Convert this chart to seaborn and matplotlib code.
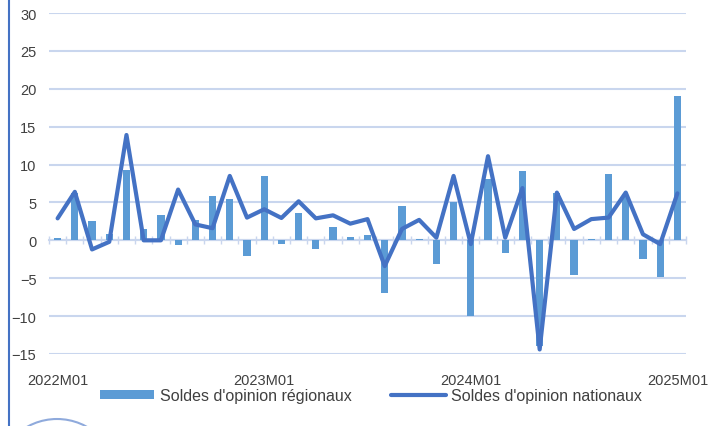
import numpy as np
import matplotlib
matplotlib.use("Agg")
import matplotlib.pyplot as plt
import seaborn as sns
from matplotlib.patches import Patch, Ellipse
from matplotlib.lines import Line2D

# Mois 2022M01 -> 2025M01
months = [f"{y}M{m:02d}" for y in (2022, 2023, 2024) for m in range(1, 13)] + ["2025M01"]
tick_labels = ["2022M01", "2023M01", "2024M01", "2025M01"]

# Soldes d'opinion regionaux (barres)
regional = [0.3, 6.2, 2.5, 0.9, 9.3, 1.5, 3.4, -0.6, 2.7, 5.8, 5.5, -2.1,
            8.5, -0.5, 3.6, -1.1, 1.8, 0.5, 0.7, -6.9, 4.5, 0.2, -3.1, 5.0,
            -10.0, 8.1, -1.7, 9.2, -14.0, 6.2, -4.6, 0.2, 8.7, 5.9, -2.4, -4.8,
            19.1]
# Soldes d'opinion nationaux (ligne)
national = [2.9, 6.4, -1.2, -0.2, 13.9, 0.0, 0.0, 6.7, 2.1, 1.6, 8.5, 3.0,
            4.1, 2.95, 5.15, 2.9, 3.3, 2.2, 2.8, -3.4, 1.5, 2.7, 0.35, 8.5,
            -0.5, 11.1, 0.35, 6.9, -14.4, 6.3, 1.5, 2.8, 3.0, 6.3, 0.8, -0.5,
            6.2]

bar_color = "#5B9BD5"
line_color = "#4472C4"
grid_color = "#C9D6EE"
text_color = "#404040"

sns.set_style("white")
plt.rcParams["font.family"] = ["Liberation Sans", "DejaVu Sans"]
plt.rcParams["font.size"] = 10

fig = plt.figure(figsize=(7.13, 4.27), dpi=100)
ax = fig.add_axes([49 / 713, 72 / 427, 637 / 713, 341 / 427])

sns.barplot(x=months, y=regional, color=bar_color, saturation=1, width=0.42,
            linewidth=0, ax=ax, zorder=2)
sns.lineplot(x=months, y=national, sort=False, color=line_color, lw=3, ax=ax, zorder=3,
             solid_joinstyle="round", solid_capstyle="round")

ax.set_ylim(-15, 30)
ax.set_xlim(-0.5, len(months) - 0.5)
ax.set_yticks(range(-15, 31, 5))
ax.yaxis.grid(True, color=grid_color, lw=1.5, zorder=0)
ax.set_axisbelow(True)
for s in ax.spines.values():
    s.set_visible(False)

ax.set_xticks([months.index(t) for t in tick_labels])
ax.set_xticklabels(tick_labels)
ax.tick_params(axis="x", length=0, pad=14, colors=text_color, labelsize=10.5)
ax.tick_params(axis="y", length=0, pad=9, colors=text_color, labelsize=10.5)
ax.set_xlabel("")
ax.set_ylabel("")

# axe horizontal au niveau zero avec graduations entre categories
sec = ax.secondary_xaxis(15 / 45)
sec.set_xticks(np.arange(-0.5, len(months), 1.0))
sec.set_xticklabels([])
sec.tick_params(axis="x", direction="inout", length=6, width=1.0, color=grid_color)
sec.spines["bottom"].set_color(grid_color)
sec.spines["bottom"].set_linewidth(1.5)

handles = [Patch(facecolor=bar_color, edgecolor="none"),
           Line2D([0], [0], color=line_color, lw=3)]
fig.legend(handles, ["Soldes d'opinion régionaux", "Soldes d'opinion nationaux"],
           loc="center", bbox_to_anchor=(371 / 713, 30 / 427), ncol=2, frameon=False,
           handlelength=3.4, handletextpad=0.35, columnspacing=2.5, fontsize=11.5,
           labelcolor=text_color, handleheight=0.5)

# cadre et logo du document
fig.add_artist(Line2D([9 / 713, 9 / 713], [0, 1], transform=fig.transFigure,
                      color=line_color, lw=1.5))
fig.add_artist(Ellipse((57 / 713, -54 / 427), 122 / 713, 122 / 427,
                       transform=fig.transFigure, fill=False,
                       edgecolor="#8FAADC", lw=1.5))

fig.savefig("out.png", dpi=100)
